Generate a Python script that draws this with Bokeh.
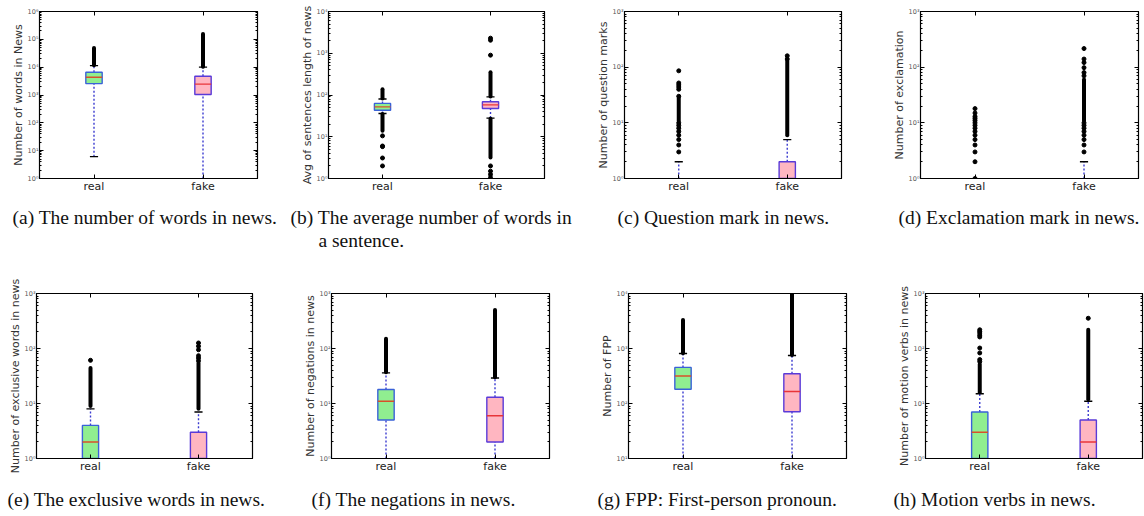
from bokeh.plotting import figure
from bokeh.models import (Range1d, FixedTicker, CustomJSTickFormatter, LinearAxis,
                          LogAxis, Title)
from bokeh.layouts import row, column
from bokeh.embed import file_html
from bokeh.resources import INLINE

# ---------------- data ----------------
GROUPS = ["real", "fake"]
POSITIONS = [1, 2]
BOX_WIDTH = 0.15

Y_LABELS = ["Number of words in News", "Avg of sentences length of news",
            "Number of question marks", "Number of exclamation",
            "Number of exclusive words in news", "Number of negations in news",
            "Number of FPP", "Number of motion verbs in news"]
CAPTIONS = ["(a) The number of words in news.",
            "(b) The average number of words in",
            "(c) Question mark in news.",
            "(d) Exclamation mark in news.",
            "(e) The exclusive words in news.",
            "(f) The negations in news.",
            "(g) FPP: First-person pronoun.",
            "(h) Motion verbs in news."]
CAPTION_B_LINE2 = "a sentence."
Y_EXP_LO = [0, 0, 0, 0, 0, 0, 1, 0]
Y_EXP_HI = [6, 4, 3, 3, 3, 3, 4, 3]

# box statistics per panel (a..h); None = not drawn
Q1_REAL = [2570, 43, None, None, 1, 5, 182, 1]
Q1_FAKE = [1040, 47.5, 1, None, 1, 2, 71, 1]
MED_REAL = [4360, 52, None, None, 2, 11, 316, 3]
MED_FAKE = [2450, 58, None, None, None, 6, 165, 2]
Q3_REAL = [6600, 63, None, None, 4, 18, 453, 7]
Q3_FAKE = [4730, 69, 2, None, 3, 13, 348, 5]
WLO_REAL = [6.1, 36, None, None, None, 1, 1, None]
WLO_FAKE = [1, 28, None, None, None, 1, 1, None]
WHI_REAL = [11400, 80, 2, None, 8, 36, 809, 15]
WHI_FAKE = [10000, 90, 5, 2, 7, 29, 745, 11]

# dense runs of outliers (low, high) and isolated outliers
BAND_REAL = [[(11600, 49000)], [(82, 138), (14, 35)], [(11, 28)], [], [(9, 44)],
             [(37, 150)], [(820, 3300)], [(16, 52)]]
BAND_FAKE = [[(10300, 155000)], [(92, 350), (3.2, 27)], [(6, 130)], [(11, 60)],
             [(8, 55)], [(30, 500)], [(760, 12000)], [(12, 220)]]
PTS_REAL = [[], [10.5, 6, 5.8, 3.1, 2],
            [3, 4, 5, 6, 7, 8, 9, 10, 30, 40, 44, 48, 52, 86],
            [1, 2, 3, 4, 5, 6, 7, 8, 9, 10, 11, 12, 13, 15, 18],
            [61], [], [], [58, 63, 83, 102, 162, 175, 191, 205, 219]]
PTS_FAKE = [[], [900, 2050, 2300, 2, 1.5, 1.25, 1.05], [140, 160],
            [3, 4, 5, 6, 7, 8, 9, 10, 70, 80, 98, 121, 140, 216],
            [60, 67, 74, 95, 110, 126], [], [], [355]]

# ---------------- layout constants ----------------
FIG_W = [290, 292, 268, 294, 290, 296, 294, 264]
BORDER_L = [39, 38, 42, 70, 36, 41, 42, 45]
FRAME_W = [218, 216, 217, 218, 216, 218, 218, 217]
CAP_OFFSET = [-27, -38, -7, -22, -29, -20, -31, -32]
CAP_B2_OFFSET = -10
CAP_B2_STANDOFF = -19
ROW_BT = [11, 19]
ROW_BB = [96, 60]
FRAME_H = 167
CAP_STANDOFF = [19, 22]
CAP_SIZE = "19.5px"

FILL = ["#90ee90", "#ffb6c1"]
EDGE = ["#3a62d8", "#5a3ad8"]
MED_COL = ["#d8502a", "#e8343a"]
WHISK_COL = "#3b3bd0"

SUP = CustomJSTickFormatter(code="""
const s = ['\u2070','\u00b9','\u00b2','\u00b3','\u2074','\u2075','\u2076','\u2077','\u2078','\u2079'];
const e = Math.round(Math.log10(tick));
return '10' + String(e).split('').map(c => s[+c]).join('');
""")
EMPTY = CustomJSTickFormatter(code="return '';")


def caption(text, offset, standoff):
    return Title(text=text, align="left", offset=offset, standoff=standoff,
                 text_font="Liberation Serif", text_font_size=CAP_SIZE,
                 text_font_style="normal", text_color="#111111")


def make_panel(i):
    lo, hi = Y_EXP_LO[i], Y_EXP_HI[i]
    r = 0 if i < 4 else 1
    bt, bb = ROW_BT[r], ROW_BB[r]
    p = figure(width=FIG_W[i], height=bt + FRAME_H + bb, y_axis_type="log",
               x_range=Range1d(0.5, 2.5), y_range=Range1d(10 ** lo, 10 ** hi),
               output_backend="svg", toolbar_location=None,
               min_border_left=BORDER_L[i],
               min_border_right=FIG_W[i] - BORDER_L[i] - FRAME_W[i],
               min_border_top=bt, min_border_bottom=bb)
    p.xgrid.visible = False
    p.ygrid.visible = False
    p.outline_line_color = "black"
    p.outline_line_width = 1.2
    p.background_fill_color = "white"
    p.border_fill_color = "white"

    majors = [10 ** k for k in range(lo, hi + 1)]
    minors = [m * 10 ** k for k in range(lo, hi) for m in range(2, 10)]

    ya = p.yaxis[0]
    ya.ticker = FixedTicker(ticks=majors, minor_ticks=minors)
    ya.formatter = SUP
    ya.major_label_text_font = "DejaVu Sans"
    ya.major_label_text_font_size = "6.5px"
    ya.major_label_text_color = "#555555"
    ya.major_label_standoff = 1
    ya.major_tick_in = 4
    ya.major_tick_out = 0
    ya.minor_tick_in = 2
    ya.minor_tick_out = 0
    ya.axis_label = Y_LABELS[i]
    ya.axis_label_text_font = "DejaVu Sans"
    ya.axis_label_text_font_size = "11px"
    ya.axis_label_text_font_style = "normal"
    ya.axis_label_text_color = "#333333"
    ya.axis_label_standoff = 0
    ya.axis_line_color = "black"

    xa = p.xaxis[0]
    xa.ticker = FixedTicker(ticks=POSITIONS, minor_ticks=[])
    xa.major_label_overrides = {POSITIONS[k]: GROUPS[k] for k in range(2)}
    xa.major_label_text_font = "DejaVu Sans"
    xa.major_label_text_font_size = "11px"
    xa.major_label_text_color = "#222222"
    xa.major_label_standoff = 1
    xa.major_tick_in = 4
    xa.major_tick_out = 0
    xa.minor_tick_line_color = None
    xa.axis_line_color = "black"

    ra = LogAxis(ticker=FixedTicker(ticks=majors, minor_ticks=minors), formatter=EMPTY,
                 major_tick_in=4, major_tick_out=0, minor_tick_in=2, minor_tick_out=0,
                 major_label_standoff=0, major_label_text_font_size="1px")
    p.add_layout(ra, "right")
    ta = LinearAxis(ticker=FixedTicker(ticks=POSITIONS, minor_ticks=[]), formatter=EMPTY,
                    major_tick_in=4, major_tick_out=0, minor_tick_line_color=None,
                    major_label_standoff=0, major_label_text_font_size="1px")
    p.add_layout(ta, "above")

    stats = [
        (Q1_REAL[i], MED_REAL[i], Q3_REAL[i], WLO_REAL[i], WHI_REAL[i], BAND_REAL[i], PTS_REAL[i]),
        (Q1_FAKE[i], MED_FAKE[i], Q3_FAKE[i], WLO_FAKE[i], WHI_FAKE[i], BAND_FAKE[i], PTS_FAKE[i]),
    ]
    ymin = 10 ** lo
    for g, (q1, med, q3, wlo, whi, bands, pts) in enumerate(stats):
        x = POSITIONS[g]
        if whi is not None:
            start = q3 if q3 is not None else ymin
            p.segment(x0=[x], y0=[start], x1=[x], y1=[whi], line_color=WHISK_COL,
                      line_width=1.4, line_dash="2 2")
        if wlo is not None and q1 is not None:
            p.segment(x0=[x], y0=[wlo], x1=[x], y1=[q1], line_color=WHISK_COL,
                      line_width=1.4, line_dash="2 2")
        if q1 is not None and q3 is not None:
            p.vbar(x=[x], width=BOX_WIDTH, bottom=[q1], top=[q3], fill_color=FILL[g],
                   line_color=EDGE[g], line_width=1.4)
        if med is not None:
            p.segment(x0=[x - BOX_WIDTH / 2], y0=[med], x1=[x + BOX_WIDTH / 2], y1=[med],
                      line_color=MED_COL[g], line_width=1.4)
        capw = BOX_WIDTH / 4
        if whi is not None:
            p.segment(x0=[x - capw], y0=[whi], x1=[x + capw], y1=[whi],
                      line_color="black", line_width=1.4)
        if wlo is not None and wlo > ymin:
            p.segment(x0=[x - capw], y0=[wlo], x1=[x + capw], y1=[wlo],
                      line_color="black", line_width=1.4)
        for (blo, bhi) in bands:
            p.segment(x0=[x], y0=[blo], x1=[x], y1=[bhi], line_color="black",
                      line_width=4, line_cap="round")
        if pts:
            p.scatter(x=[x] * len(pts), y=pts, size=4, color="black")

    p.add_layout(caption(CAPTIONS[i], CAP_OFFSET[i], CAP_STANDOFF[r]), "below")
    if i == 1:
        p.add_layout(caption(CAPTION_B_LINE2, CAP_B2_OFFSET, CAP_B2_STANDOFF), "below")
    return p


figs = [make_panel(i) for i in range(8)]
layout = column(row(*figs[:4]), row(*figs[4:]))
open("out.html", "w").write(file_html(layout, INLINE))
